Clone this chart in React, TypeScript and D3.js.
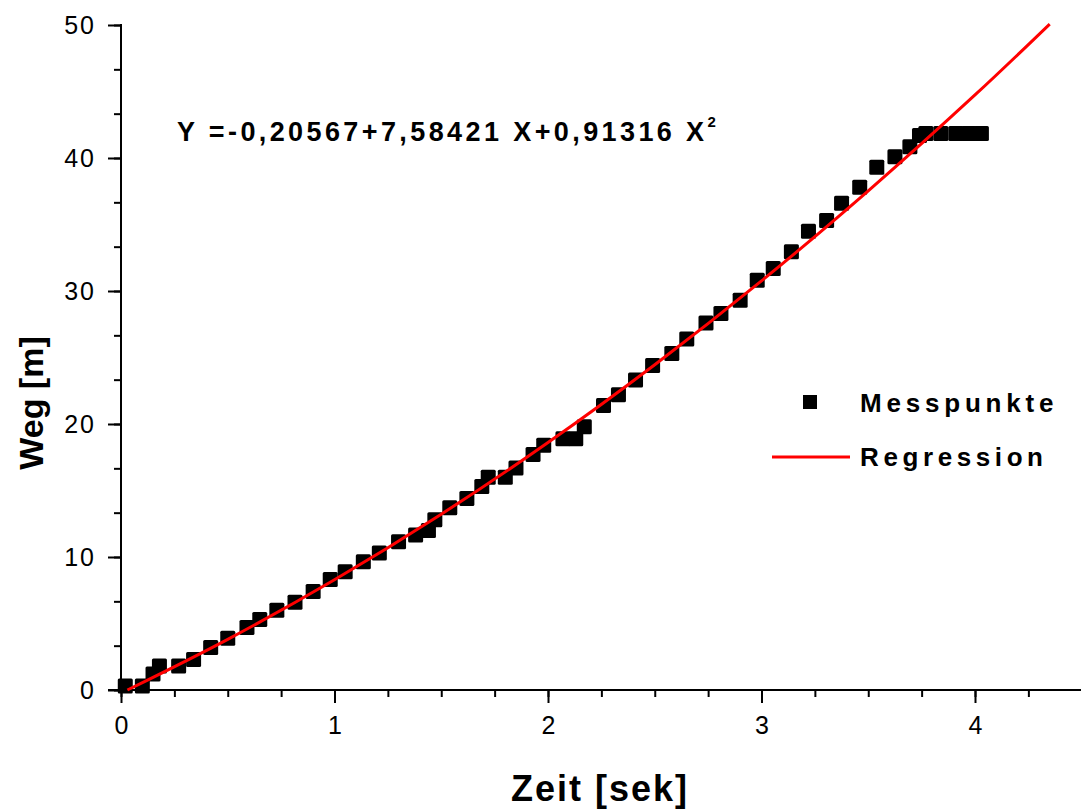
import { useEffect, useRef } from "react";
import * as d3 from "d3";

// measured points (time in s, distance in m)
const zeit = [
  0.02, 0.1, 0.15, 0.18, 0.27, 0.34, 0.42, 0.5, 0.59, 0.65, 0.73, 0.815, 0.9,
  0.98, 1.05, 1.135, 1.21, 1.3, 1.38, 1.44, 1.47, 1.54, 1.62, 1.69, 1.72, 1.8,
  1.85, 1.93, 1.98, 2.07, 2.13, 2.17, 2.26, 2.33, 2.41, 2.49, 2.58, 2.65, 2.74,
  2.81, 2.9, 2.98, 3.055, 3.14, 3.22, 3.305, 3.375, 3.46, 3.54, 3.625, 3.695,
  3.74, 3.77, 3.84, 3.91, 3.97, 4.03,
];
const weg = [
  0.3, 0.3, 1.2, 1.8, 1.8, 2.3, 3.2, 3.9, 4.7, 5.3, 6.0, 6.6, 7.4, 8.3, 8.9,
  9.65, 10.3, 11.15, 11.65, 12.0, 12.8, 13.7, 14.4, 15.3, 16.0, 16.0, 16.7,
  17.7, 18.4, 18.9, 18.9, 19.8, 21.4, 22.2, 23.3, 24.4, 25.3, 26.4, 27.6, 28.3,
  29.3, 30.8, 31.7, 32.95, 34.5, 35.3, 36.6, 37.8, 39.3, 40.1, 40.85, 41.7,
  41.85, 41.85, 41.85, 41.85, 41.85,
];

// regression curve
const regT = [0.03, 0.5, 1, 1.5, 2, 2.5, 3, 3.5, 4, 4.35];
const regY = [0.0, 3.81, 8.29, 13.22, 18.61, 24.46, 30.76, 37.53, 44.74, 50.07];

const xTicks = [0, 1, 2, 3, 4];
const yTicks = [0, 10, 20, 30, 40, 50];

const App = () => {
  const svgRef = useRef<SVGSVGElement | null>(null);

  useEffect(() => {
    const svg = d3.select(svgRef.current);
    svg.selectAll("*").remove();
    const font = "'Liberation Sans', Arial, sans-serif";

    const x = d3.scaleLinear().domain([0, 4.5]).range([121, 1081.75]);
    const y = d3.scaleLinear().domain([0, 50]).range([690, 25]);

    // x axis
    const xAxis = svg.append("g").attr("transform", "translate(0,690)");
    xAxis
      .call(
        d3
          .axisBottom(x)
          .tickValues(d3.range(0, 4.5, 0.25))
          .tickSize(7)
          .tickFormat(() => "")
      )
      .call((g) => g.select(".domain").remove());
    xAxis
      .append("g")
      .call(
        d3
          .axisBottom(x)
          .tickValues(xTicks)
          .tickSize(13)
          .tickPadding(13)
          .tickFormat(d3.format("d"))
      )
      .call((g) => g.select(".domain").remove())
      .call((g) =>
        g
          .selectAll("text")
          .attr("font-size", 25)
          .attr("font-family", font)
          .attr("fill", "#000")
      );
    xAxis
      .append("line")
      .attr("x1", 108)
      .attr("x2", 1081)
      .attr("stroke", "#000")
      .attr("stroke-width", 2);
    xAxis.selectAll("line").attr("stroke-width", 2);

    // y axis
    const yAxis = svg.append("g").attr("transform", "translate(121,0)");
    yAxis
      .call(
        d3
          .axisLeft(y)
          .tickValues(d3.range(0, 50.01, 10 / 3))
          .tickSize(7)
          .tickFormat(() => "")
      )
      .call((g) => g.select(".domain").remove());
    yAxis
      .append("g")
      .call(
        d3
          .axisLeft(y)
          .tickValues(yTicks)
          .tickSize(13)
          .tickPadding(12)
          .tickFormat(d3.format("d"))
      )
      .call((g) => g.select(".domain").remove())
      .call((g) =>
        g
          .selectAll("text")
          .attr("font-size", 25)
          .attr("letter-spacing", 2)
          .attr("font-family", font)
          .attr("fill", "#000")
      );
    yAxis
      .append("line")
      .attr("y1", 24)
      .attr("y2", 691)
      .attr("stroke", "#000")
      .attr("stroke-width", 2);
    yAxis.selectAll("line").attr("stroke-width", 2);

    // data points
    svg
      .append("g")
      .selectAll("rect")
      .data(zeit)
      .join("rect")
      .attr("x", (d) => x(d) - 7.5)
      .attr("y", (_, i) => y(weg[i]) - 7.5)
      .attr("width", 15)
      .attr("height", 15)
      .attr("rx", 1.5)
      .attr("fill", "#000");

    // regression
    const line = d3
      .line<number>()
      .x((d) => x(d))
      .y((_, i) => y(regY[i]))
      .curve(d3.curveCatmullRom);
    svg
      .append("path")
      .attr("d", line(regT))
      .attr("fill", "none")
      .attr("stroke", "#ff0000")
      .attr("stroke-width", 3);

    // equation
    const eq = svg
      .append("text")
      .attr("x", 177)
      .attr("y", 141)
      .attr("font-family", font)
      .attr("font-weight", "bold")
      .attr("font-size", 27)
      .attr("letter-spacing", 3.4)
      .text("Y =-0,20567+7,58421 X+0,91316 X");
    eq.append("tspan").attr("font-size", 15).attr("dy", -14).text("2");

    // legend
    svg
      .append("rect")
      .attr("x", 803)
      .attr("y", 395)
      .attr("width", 14)
      .attr("height", 14)
      .attr("fill", "#000");
    svg
      .append("text")
      .attr("x", 860)
      .attr("y", 412)
      .attr("font-family", font)
      .attr("font-weight", "bold")
      .attr("font-size", 26)
      .attr("letter-spacing", 4.8)
      .text("Messpunkte");
    svg
      .append("line")
      .attr("x1", 772)
      .attr("x2", 850)
      .attr("y1", 457)
      .attr("y2", 457)
      .attr("stroke", "#ff0000")
      .attr("stroke-width", 3);
    svg
      .append("text")
      .attr("x", 860)
      .attr("y", 466)
      .attr("font-family", font)
      .attr("font-weight", "bold")
      .attr("font-size", 26)
      .attr("letter-spacing", 4.6)
      .text("Regression");

    // axis titles
    svg
      .append("text")
      .attr("x", 600)
      .attr("y", 801)
      .attr("text-anchor", "middle")
      .attr("font-family", font)
      .attr("font-weight", "bold")
      .attr("font-size", 36)
      .attr("letter-spacing", 2)
      .text("Zeit [sek]");
    svg
      .append("text")
      .attr("transform", "translate(43,403) rotate(-90)")
      .attr("text-anchor", "middle")
      .attr("font-family", font)
      .attr("font-weight", "bold")
      .attr("font-size", 34)
      .text("Weg [m]");
  }, []);

  return (
    <svg
      ref={svgRef}
      width={1081}
      height={811}
      style={{ position: "absolute", left: 0, top: 0, background: "#fff" }}
    />
  );
};

export default App;
